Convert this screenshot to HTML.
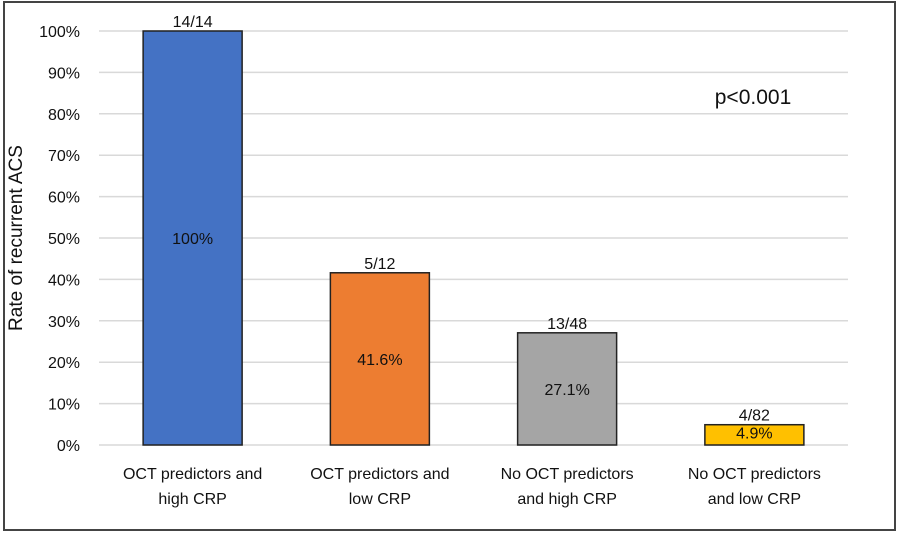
<!DOCTYPE html>
<html><head><meta charset="utf-8"><style>
body{margin:0;background:#fff;}
svg text{font-family:"Liberation Sans",sans-serif;fill:#111;}
</style></head><body>
<svg width="899" height="536" viewBox="0 0 899 536">
<rect x="4" y="2" width="891" height="528" fill="#fff" stroke="#444" stroke-width="2"/>
<g id="grid"></g><g id="bars"></g><g id="labels"></g>
<text x="22" y="238" font-size="19" text-anchor="middle" transform="rotate(-90 22 238)">Rate of recurrent ACS</text>
<text x="753" y="104" font-size="21" text-anchor="middle">p&lt;0.001</text>
</svg>
<script>
const categories=[["OCT predictors and","high CRP"],["OCT predictors and","low CRP"],["No OCT predictors","and high CRP"],["No OCT predictors","and low CRP"]];
const values=[100,41.6,27.1,4.9];
const valueLabels=["100%","41.6%","27.1%","4.9%"];
const fractions=["14/14","5/12","13/48","4/82"];
const colors=["#4472c4","#ed7d31","#a5a5a5","#ffc000"];
const ticks=[0,10,20,30,40,50,60,70,80,90,100];
const NS="http://www.w3.org/2000/svg";
const x0=99,x1=848,yTop=31,yBot=445;
const y=v=>yBot-(v/100)*(yBot-yTop);
const band=(x1-x0)/categories.length;
const xc=i=>x0+band*(i+0.5);
function mk(t,a,p){const e=document.createElementNS(NS,t);for(const k in a)e.setAttribute(k,a[k]);p.appendChild(e);return e;}
const g=document.getElementById('grid'),b=document.getElementById('bars'),l=document.getElementById('labels');
ticks.forEach(t=>{
const ln=mk('line',{x1:x0,x2:x1,y1:y(t),y2:y(t),stroke:'#d9d9d9','stroke-width':1.5},g);


const tx=mk('text',{x:80,y:y(t)+6,'font-size':16,'text-anchor':'end'},l);
tx.textContent=t+'%';


});
values.forEach((v,i)=>{
const w=99;
const r=mk('rect',{x:xc(i)-w/2,y:y(v),width:w,height:yBot-y(v),fill:colors[i],stroke:'#222','stroke-width':1.5},b);


const f=mk('text',{x:xc(i),y:y(v)-4,'font-size':16,'text-anchor':'middle'},l);
f.textContent=fractions[i];


const inY=v>15?(y(v)+yBot)/2+6:y(v)+14;
const vl=mk('text',{x:xc(i),y:inY,'font-size':16,'text-anchor':'middle'},l);
vl.textContent=valueLabels[i];


categories[i].forEach((s,j)=>{
const c=mk('text',{x:xc(i),y:479+j*25,'font-size':16,'text-anchor':'middle'},l);
c.textContent=s;


});
});
</script>
</body></html>
